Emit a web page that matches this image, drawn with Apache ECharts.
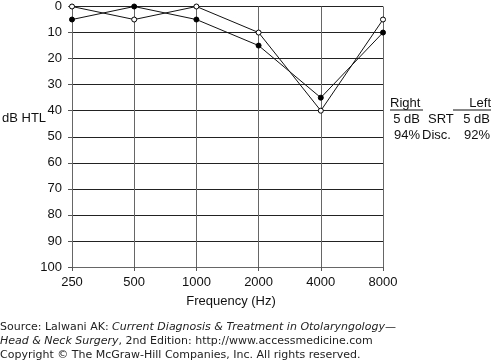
<!DOCTYPE html>
<html><head><meta charset="utf-8">
<script src="https://cdn.jsdelivr.net/npm/echarts@6/dist/echarts.min.js"></script>
<style>html,body{margin:0;padding:0;background:#fff}#c{width:491px;height:363px}</style>
</head><body><div id="c"></div>
<script>
const categories = ['250','500','1000','2000','4000','8000'];
const filledSeries = [5, 0, 5, 15, 35, 10];
const openSeries = [0, 5, 0, 10, 40, 5];
const yTicks = [0,10,20,30,40,50,60,70,80,90,100];

const chart = echarts.init(document.getElementById('c'));
const F = '"Liberation Sans", Arial, sans-serif';
const txt = (x, y, t, align, extra) => Object.assign({type:'text', x, y, style:{text:t, font:'13px ' + F, fill:'#111', align:align||'left', verticalAlign:'middle'}}, extra||{});
chart.setOption({
  animation:false,
  grid:{left:72, right:108, top:4.5, bottom:96},
  xAxis:{type:'category', data:categories, boundaryGap:false,
    axisLine:{onZero:false, lineStyle:{color:'#666', width:1}},
    axisTick:{show:true, length:4, lineStyle:{color:'#555'}},
    axisLabel:{color:'#111', fontFamily:'Liberation Sans', fontSize:13, margin:9},
    splitLine:{show:true, lineStyle:{color:'#666', width:1}}},
  yAxis:{type:'value', inverse:true, min:0, max:100, interval:10,
    axisLine:{show:true, lineStyle:{color:'#666', width:1}},
    axisTick:{show:true, length:4, lineStyle:{color:'#555'}},
    axisLabel:{color:'#111', fontFamily:'Liberation Sans', fontSize:13, margin:10},
    splitLine:{show:true, lineStyle:{color:'#222', width:1}}},
  series:[
    {type:'line', data:filledSeries, symbol:'circle', symbolSize:5,
      lineStyle:{color:'#111', width:1}, itemStyle:{color:'#000', borderColor:'#000', borderWidth:1}},
    {type:'line', data:openSeries, symbol:'circle', symbolSize:5,
      lineStyle:{color:'#111', width:1}, itemStyle:{color:'#fff', borderColor:'#000', borderWidth:1}}
  ],
  graphic:[
    txt(2, 118, 'dB HTL'),
    txt(231, 301, 'Frequency (Hz)', 'center'),
    txt(390, 103, 'Right'),
    txt(491, 103, 'Left', 'right'),
    {type:'line', shape:{x1:390, y1:110, x2:423, y2:110}, style:{stroke:'#111', lineWidth:1}},
    {type:'line', shape:{x1:453, y1:110, x2:491, y2:110}, style:{stroke:'#111', lineWidth:1}},
    txt(420, 119, '5 dB', 'right'),
    txt(428, 119, 'SRT'),
    txt(490, 119, '5 dB', 'right'),
    txt(420, 135, '94%', 'right'),
    txt(422, 135, 'Disc.'),
    txt(490, 135, '92%', 'right'),
    {type:'text', x:0, y:327, style:{rich:{n:{font:'11px "DejaVu Sans"', fill:'#222'}, i:{font:'italic 11px "DejaVu Sans"', fill:'#222'}},
      text:'{n|Source: Lalwani AK: }{i|Current Diagnosis & Treatment in Otolaryngology\u2014}', verticalAlign:'middle'}},
    {type:'text', x:0, y:341, style:{rich:{n:{font:'11px "DejaVu Sans"', fill:'#222'}, i:{font:'italic 11px "DejaVu Sans"', fill:'#222'}},
      text:'{i|Head & Neck Surgery}{n|, 2nd Edition: http://www.accessmedicine.com}', verticalAlign:'middle'}},
    {type:'text', x:0, y:355, style:{text:'Copyright \u00a9 The McGraw-Hill Companies, Inc. All rights reserved.', font:'11px "DejaVu Sans"', fill:'#222', verticalAlign:'middle'}}
  ]
});
</script></body></html>
